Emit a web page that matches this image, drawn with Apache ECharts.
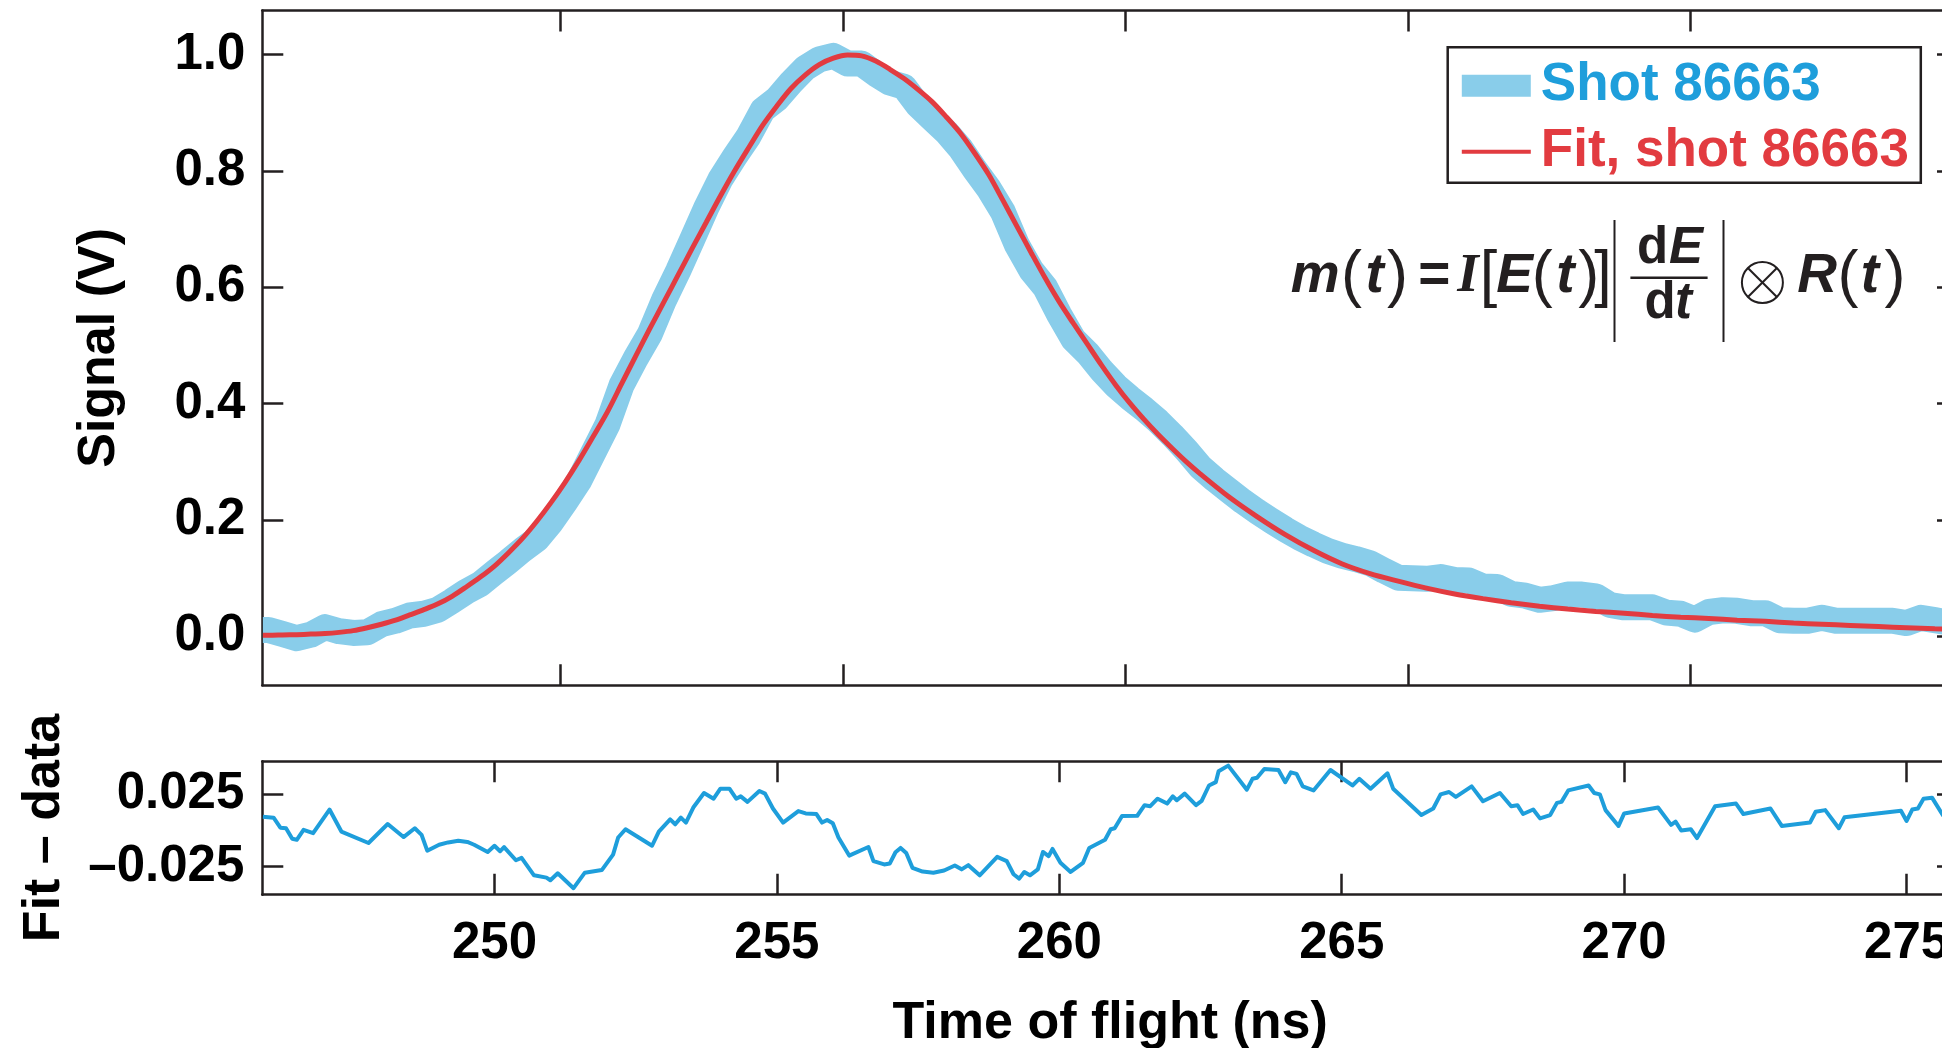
<!DOCTYPE html>
<html>
<head>
<meta charset="utf-8">
<title>Time of flight signal and fit</title>
<script src="https://cdn.jsdelivr.net/npm/echarts@6/dist/echarts.min.js"></script>
<style>
  html, body { margin: 0; padding: 0; background: #ffffff; }
  #chart { width: 1942px; height: 1048px; }
</style>
</head>
<body>
<div id="chart"></div>
<script>
// ---- measured signal, shot 86663 (ns, V) ----
const dataTime = [245.9, 246, 246.25, 246.5, 246.75, 247, 247.25, 247.5, 247.75, 248, 248.25, 248.5, 248.75, 249, 249.25, 249.5, 249.75, 250, 250.25, 250.5, 250.75, 251, 251.25, 251.5, 251.75, 252, 252.25, 252.5, 252.75, 253, 253.25, 253.5, 253.75, 254, 254.25, 254.5, 254.75, 255, 255.25, 255.5, 255.75, 256, 256.25, 256.5, 256.75, 257, 257.25, 257.5, 257.75, 258, 258.25, 258.5, 258.75, 259, 259.25, 259.5, 259.75, 260, 260.25, 260.5, 260.75, 261, 261.25, 261.5, 261.75, 262, 262.25, 262.5, 262.75, 263, 263.25, 263.5, 263.75, 264, 264.25, 264.5, 264.75, 265, 265.25, 265.5, 265.75, 266, 266.25, 266.5, 266.75, 267, 267.25, 267.5, 267.75, 268, 268.25, 268.5, 268.75, 269, 269.25, 269.5, 269.75, 270, 270.25, 270.5, 270.75, 271, 271.25, 271.5, 271.75, 272, 272.25, 272.5, 272.75, 273, 273.25, 273.5, 273.75, 274, 274.25, 274.5, 274.75, 275, 275.25, 275.5, 275.75, 275.9];
const dataSignal = [0.011, 0.011, 0.004, -0.003, 0.003, 0.016, 0.009, 0.006, 0.007, 0.021, 0.027, 0.036, 0.039, 0.046, 0.061, 0.077, 0.090, 0.110, 0.129, 0.149, 0.167, 0.196, 0.231, 0.268, 0.316, 0.364, 0.432, 0.478, 0.520, 0.578, 0.628, 0.682, 0.737, 0.786, 0.824, 0.860, 0.905, 0.924, 0.952, 0.977, 0.992, 0.998, 0.985, 0.985, 0.967, 0.952, 0.945, 0.913, 0.890, 0.867, 0.839, 0.803, 0.770, 0.730, 0.673, 0.630, 0.600, 0.553, 0.511, 0.487, 0.457, 0.431, 0.410, 0.391, 0.370, 0.346, 0.320, 0.291, 0.270, 0.251, 0.232, 0.215, 0.199, 0.184, 0.170, 0.158, 0.147, 0.139, 0.133, 0.126, 0.113, 0.101, 0.100, 0.099, 0.102, 0.097, 0.096, 0.086, 0.085, 0.073, 0.070, 0.063, 0.066, 0.072, 0.072, 0.069, 0.054, 0.050, 0.050, 0.050, 0.041, 0.039, 0.029, 0.042, 0.045, 0.044, 0.040, 0.040, 0.028, 0.027, 0.027, 0.032, 0.027, 0.027, 0.027, 0.027, 0.027, 0.023, 0.032, 0.028, 0.024, 0.022];

// ---- model fit m(t) ----
const fitTime = [245.9, 246, 246.25, 246.5, 246.75, 247, 247.25, 247.5, 247.75, 248, 248.25, 248.5, 248.75, 249, 249.25, 249.5, 249.75, 250, 250.25, 250.5, 250.75, 251, 251.25, 251.5, 251.75, 252, 252.25, 252.5, 252.75, 253, 253.25, 253.5, 253.75, 254, 254.25, 254.5, 254.75, 255, 255.25, 255.5, 255.75, 256, 256.25, 256.5, 256.75, 257, 257.25, 257.5, 257.75, 258, 258.25, 258.5, 258.75, 259, 259.25, 259.5, 259.75, 260, 260.25, 260.5, 260.75, 261, 261.25, 261.5, 261.75, 262, 262.25, 262.5, 263, 263.5, 264, 264.5, 265, 265.5, 266, 266.5, 267, 267.5, 268, 268.5, 269, 269.5, 270, 270.5, 271, 271.5, 272, 272.5, 273, 273.5, 274, 274.5, 275, 275.5, 275.9];
const fitSignal = [0.002, 0.002, 0.0025, 0.003, 0.004, 0.005, 0.007, 0.010, 0.015, 0.021, 0.028, 0.037, 0.046, 0.056, 0.069, 0.085, 0.102, 0.121, 0.144, 0.169, 0.198, 0.230, 0.265, 0.303, 0.344, 0.386, 0.434, 0.482, 0.529, 0.575, 0.621, 0.667, 0.712, 0.757, 0.800, 0.840, 0.879, 0.912, 0.942, 0.965, 0.983, 0.994, 0.9995, 0.998, 0.989, 0.975, 0.959, 0.940, 0.919, 0.893, 0.865, 0.831, 0.794, 0.750, 0.705, 0.660, 0.616, 0.575, 0.538, 0.502, 0.466, 0.432, 0.401, 0.373, 0.347, 0.323, 0.300, 0.279, 0.240, 0.206, 0.175, 0.148, 0.125, 0.108, 0.095, 0.083, 0.073, 0.065, 0.058, 0.052, 0.047, 0.043, 0.040, 0.036, 0.033, 0.031, 0.028, 0.026, 0.023, 0.021, 0.019, 0.017, 0.015, 0.013, 0.012];

// ---- residual (lower panel) ----
const residTime = [245.9, 246.09, 246.21, 246.31, 246.42, 246.5, 246.62, 246.79, 247.08, 247.29, 247.77, 248.11, 248.39, 248.59, 248.71, 248.81, 249.02, 249.18, 249.36, 249.52, 249.64, 249.88, 250.0, 250.1, 250.17, 250.38, 250.48, 250.7, 250.92, 250.99, 251.12, 251.4, 251.6, 251.9, 252.1, 252.19, 252.32, 252.79, 252.91, 253.11, 253.2, 253.3, 253.39, 253.52, 253.71, 253.88, 254.0, 254.16, 254.28, 254.36, 254.48, 254.69, 254.79, 254.93, 255.11, 255.38, 255.51, 255.7, 255.8, 255.89, 255.99, 256.09, 256.28, 256.62, 256.71, 256.9, 257.0, 257.1, 257.19, 257.29, 257.4, 257.58, 257.77, 257.96, 258.15, 258.27, 258.39, 258.59, 258.9, 259.07, 259.19, 259.29, 259.38, 259.48, 259.62, 259.71, 259.81, 259.88, 260.02, 260.2, 260.42, 260.53, 260.81, 260.91, 260.98, 261.11, 261.38, 261.51, 261.61, 261.74, 261.91, 262.01, 262.08, 262.22, 262.42, 262.52, 262.65, 262.77, 262.82, 262.99, 263.32, 263.42, 263.5, 263.63, 263.88, 264.0, 264.1, 264.2, 264.31, 264.5, 264.8, 265.19, 265.31, 265.51, 265.81, 265.91, 266.41, 266.62, 266.75, 266.9, 267.02, 267.3, 267.5, 267.8, 268.0, 268.11, 268.21, 268.39, 268.51, 268.69, 268.81, 268.89, 269.01, 269.37, 269.47, 269.57, 269.67, 269.9, 270.0, 270.6, 270.83, 270.91, 271.01, 271.18, 271.29, 271.61, 271.98, 272.11, 272.59, 272.79, 273.29, 273.39, 273.56, 273.8, 273.9, 274.9, 275.0, 275.1, 275.2, 275.3, 275.45, 275.64, 275.9];
const residValue = [0.0095, 0.0089, 0.0020, 0.0016, -0.0057, -0.0064, 0.0005, -0.0018, 0.0145, -0.0007, -0.0086, 0.0045, -0.0045, 0.0016, -0.0030, -0.0139, -0.0098, -0.0082, -0.0070, -0.0079, -0.0098, -0.0148, -0.0105, -0.0143, -0.0114, -0.0205, -0.0189, -0.0309, -0.0325, -0.0343, -0.0295, -0.0398, -0.0291, -0.0273, -0.0166, -0.0048, 0.0009, -0.0105, -0.0007, 0.0077, 0.0043, 0.0089, 0.0055, 0.0159, 0.0259, 0.0220, 0.0289, 0.0289, 0.0220, 0.0236, 0.0198, 0.0273, 0.0255, 0.0152, 0.0055, 0.0134, 0.0118, 0.0114, 0.0055, 0.0073, 0.0050, -0.0048, -0.0173, -0.0114, -0.0211, -0.0234, -0.0227, -0.0150, -0.0120, -0.0155, -0.0257, -0.0283, -0.0291, -0.0276, -0.0241, -0.0268, -0.0239, -0.0309, -0.0182, -0.0211, -0.0302, -0.0332, -0.0286, -0.0309, -0.0268, -0.0148, -0.0177, -0.0127, -0.0222, -0.0286, -0.0223, -0.0120, -0.0064, 0.0009, 0.0016, 0.0100, 0.0102, 0.0175, 0.0168, 0.0220, 0.0186, 0.0236, 0.0209, 0.0255, 0.0175, 0.0205, 0.0311, 0.0334, 0.0409, 0.0448, 0.0282, 0.0357, 0.0364, 0.0425, 0.0418, 0.0334, 0.0402, 0.0391, 0.0305, 0.0277, 0.0418, 0.0311, 0.0357, 0.0289, 0.0395, 0.0289, 0.0107, 0.0152, 0.0250, 0.0266, 0.0232, 0.0305, 0.0202, 0.0259, 0.0168, 0.0175, 0.0114, 0.0145, 0.0084, 0.0107, 0.0191, 0.0198, 0.0277, 0.0311, 0.0259, 0.0250, 0.0141, 0.0032, 0.0118, 0.0159, 0.0039, 0.0061, 0.0000, 0.0009, -0.0052, 0.0168, 0.0186, 0.0114, 0.0152, 0.0032, 0.0055, 0.0130, 0.0141, 0.0016, 0.0091, 0.0136, 0.0066, 0.0145, 0.0152, 0.0220, 0.0227, 0.0107, 0.0030];

// ---- axes ----
const timeRange = [245.89, 275.91];
const signalRange = [-0.084, 1.076];
const residRange = [-0.0443, 0.0478];
const timeTicks = [250, 255, 260, 265, 270, 275];
const upperTimeTicks = [251.17, 256.17, 261.17, 266.17, 271.17];
const signalTicks = [0, 0.2, 0.4, 0.6, 0.8, 1.0];
const residTicks = [-0.025, 0.025];

const seriesNames = ['Shot 86663', 'Fit, shot 86663'];

const FONT = '"Liberation Sans", Arial, Helvetica, sans-serif';
const SERIF = '"Liberation Serif", "Times New Roman", serif';
const INK = '#231f20';
const BAND = '#89cdea';
const BLUE = '#1e9edb';
const RED = '#e23b40';

function zip(xs, ys) {
  const n = Math.min(xs.length, ys.length);
  const out = [];
  for (let i = 0; i < n; i++) out.push([xs[i], ys[i]]);
  return out;
}

const frameLine = { show: true, onZero: false, lineStyle: { color: INK, width: 2.5 } };
function ticks(values) {
  return { show: true, inside: true, length: 21, customValues: values, lineStyle: { color: INK, width: 2.5 } };
}
const tickFont = { fontFamily: FONT, fontWeight: 'bold', fontSize: 51, color: '#000' };
const titleFont = { fontFamily: FONT, fontWeight: 'bold', fontSize: 52, color: '#000' };

function xAxisFor(grid, position, tickValues, label, extra) {
  return Object.assign({
    type: 'value', gridIndex: grid, position: position,
    min: timeRange[0], max: timeRange[1],
    axisLine: frameLine, axisTick: ticks(tickValues),
    axisLabel: label || { show: false },
    splitLine: { show: false }
  }, extra || {});
}
function yAxisFor(grid, position, range, tickValues, label, extra) {
  return Object.assign({
    type: 'value', gridIndex: grid, position: position,
    min: range[0], max: range[1],
    axisLine: frameLine, axisTick: ticks(tickValues),
    axisLabel: label || { show: false },
    splitLine: { show: false }
  }, extra || {});
}

// ---- formula m(t) = I[E(t)] |dE/dt| ⊗ R(t) ----
function glyph(text, cx, cy, size, family, weight, style) {
  return {
    type: 'text', x: cx, y: cy, silent: true,
    style: {
      text: text, fill: INK, align: 'center', verticalAlign: 'middle',
      fontFamily: family, fontSize: size, fontWeight: weight, fontStyle: style
    }
  };
}
const LET = 55, PAR = 63, FR = 51, ROW = 276.5;
const formula = [
  glyph('m', 1315.3, ROW, LET, FONT, 'bold', 'italic'),
  glyph('(', 1351.5, 277.2, PAR, FONT, 'normal', 'normal'),
  glyph('t', 1374.7, ROW, LET, FONT, 'bold', 'italic'),
  glyph(')', 1397.4, 277.2, PAR, FONT, 'normal', 'normal'),
  glyph('=', 1434.3, ROW, LET, FONT, 'bold', 'normal'),
  glyph('I', 1468, 277, LET, SERIF, 'bold', 'italic'),
  glyph('[', 1488.4, 277.2, PAR, FONT, 'normal', 'normal'),
  glyph('E', 1514.7, ROW, LET, FONT, 'bold', 'italic'),
  glyph('(', 1542.3, 277.2, PAR, FONT, 'normal', 'normal'),
  glyph('t', 1565.5, ROW, LET, FONT, 'bold', 'italic'),
  glyph(')', 1588.7, 277.2, PAR, FONT, 'normal', 'normal'),
  glyph(']', 1603, 277.2, PAR, FONT, 'normal', 'normal'),
  { type: 'line', silent: true, shape: { x1: 1614.5, y1: 220, x2: 1614.5, y2: 342 }, style: { stroke: INK, lineWidth: 2 } },
  glyph('d', 1652.5, 249, FR, FONT, 'bold', 'normal'),
  glyph('E', 1686, 249, FR, FONT, 'bold', 'italic'),
  { type: 'line', silent: true, shape: { x1: 1630.4, y1: 277.7, x2: 1707.6, y2: 277.7 }, style: { stroke: INK, lineWidth: 2.5 } },
  glyph('d', 1660, 304, FR, FONT, 'bold', 'normal'),
  glyph('t', 1683.5, 304, FR, FONT, 'bold', 'italic'),
  { type: 'line', silent: true, shape: { x1: 1723.5, y1: 220, x2: 1723.5, y2: 342 }, style: { stroke: INK, lineWidth: 2 } },
  { type: 'circle', silent: true, shape: { cx: 1762.4, cy: 282.5, r: 20.5 }, style: { fill: 'none', stroke: INK, lineWidth: 2 } },
  { type: 'line', silent: true, shape: { x1: 1747.9, y1: 268, x2: 1776.9, y2: 297 }, style: { stroke: INK, lineWidth: 2 } },
  { type: 'line', silent: true, shape: { x1: 1776.9, y1: 268, x2: 1747.9, y2: 297 }, style: { stroke: INK, lineWidth: 2 } },
  glyph('R', 1817, ROW, LET, FONT, 'bold', 'italic'),
  glyph('(', 1848, 277.2, PAR, FONT, 'normal', 'normal'),
  glyph('t', 1870, ROW, LET, FONT, 'bold', 'italic'),
  glyph(')', 1895, 277.2, PAR, FONT, 'normal', 'normal')
];

const chart = echarts.init(document.getElementById('chart'), null, { renderer: 'canvas' });

chart.setOption({
  animation: false,
  backgroundColor: '#ffffff',
  grid: [
    { left: 262.3, top: 10.5, width: 1695.7, height: 674.8, outerBoundsMode: 'none' },
    { left: 262.3, top: 761.3, width: 1695.7, height: 133.4, outerBoundsMode: 'none' }
  ],
  xAxis: [
    xAxisFor(0, 'bottom', upperTimeTicks),
    xAxisFor(0, 'top', upperTimeTicks),
    xAxisFor(1, 'bottom', timeTicks,
      Object.assign({ show: true, customValues: timeTicks, margin: 23.5, formatter: v => String(v) }, tickFont),
      { name: 'Time of flight (ns)', nameLocation: 'middle', nameGap: 103, nameTextStyle: titleFont }),
    xAxisFor(1, 'top', timeTicks)
  ],
  yAxis: [
    yAxisFor(0, 'left', signalRange, signalTicks,
      Object.assign({ show: true, customValues: signalTicks, margin: 17, formatter: v => v.toFixed(1) }, tickFont),
      { name: 'Signal (V)', nameLocation: 'middle', nameRotate: 90, nameGap: 137, nameTextStyle: titleFont }),
    yAxisFor(0, 'right', signalRange, signalTicks),
    yAxisFor(1, 'left', residRange, residTicks,
      Object.assign({ show: true, customValues: residTicks, margin: 18,
        formatter: v => (v < 0 ? '\u2013' : '') + Math.abs(v).toFixed(3) }, tickFont),
      { name: 'Fit \u2013 data', nameLocation: 'middle', nameRotate: 90, nameGap: 192, nameTextStyle: titleFont }),
    yAxisFor(1, 'right', residRange, residTicks)
  ],
  legend: [
    {
      data: [{ name: seriesNames[0], icon: 'rect', itemStyle: { color: BAND, borderWidth: 0 } }],
      left: 1461.8, top: 59.3, padding: 0, itemWidth: 69, itemHeight: 22, selectedMode: false,
      textStyle: { color: BLUE, fontSize: 53, fontWeight: 'bold', fontFamily: FONT, lineHeight: 52, padding: [0, 0, 0, 5] }
    },
    {
      data: [{ name: seriesNames[1], icon: 'rect', itemStyle: { color: RED, borderWidth: 0 } }],
      left: 1461.8, top: 121.2, padding: 0, itemWidth: 69, itemHeight: 4, selectedMode: false,
      textStyle: { color: RED, fontSize: 53, fontWeight: 'bold', fontFamily: FONT, lineHeight: 52, padding: [0, 0, 9, 5] }
    }
  ],
  graphic: [
    { type: 'rect', z: 0, silent: true,
      shape: { x: 1447.7, y: 47.3, width: 473.1, height: 135.4 },
      style: { fill: '#ffffff', stroke: INK, lineWidth: 2.5 } },
    { type: 'group', silent: true, children: formula }
  ],
  series: [
    {
      name: seriesNames[0], type: 'line', xAxisIndex: 0, yAxisIndex: 0,
      data: zip(dataTime, dataSignal), symbol: 'none', color: BAND,
      lineStyle: { color: BAND, width: 26, join: 'round', cap: 'butt' }, z: 2
    },
    {
      name: seriesNames[1], type: 'line', xAxisIndex: 0, yAxisIndex: 0,
      data: zip(fitTime, fitSignal), symbol: 'none', smooth: 0.3, color: RED,
      lineStyle: { color: RED, width: 5 }, z: 3
    },
    {
      name: 'Residual', type: 'line', xAxisIndex: 2, yAxisIndex: 2,
      data: zip(residTime, residValue), symbol: 'none', color: BLUE,
      lineStyle: { color: BLUE, width: 4, join: 'round' }, z: 2
    }
  ]
});
</script>
</body>
</html>
